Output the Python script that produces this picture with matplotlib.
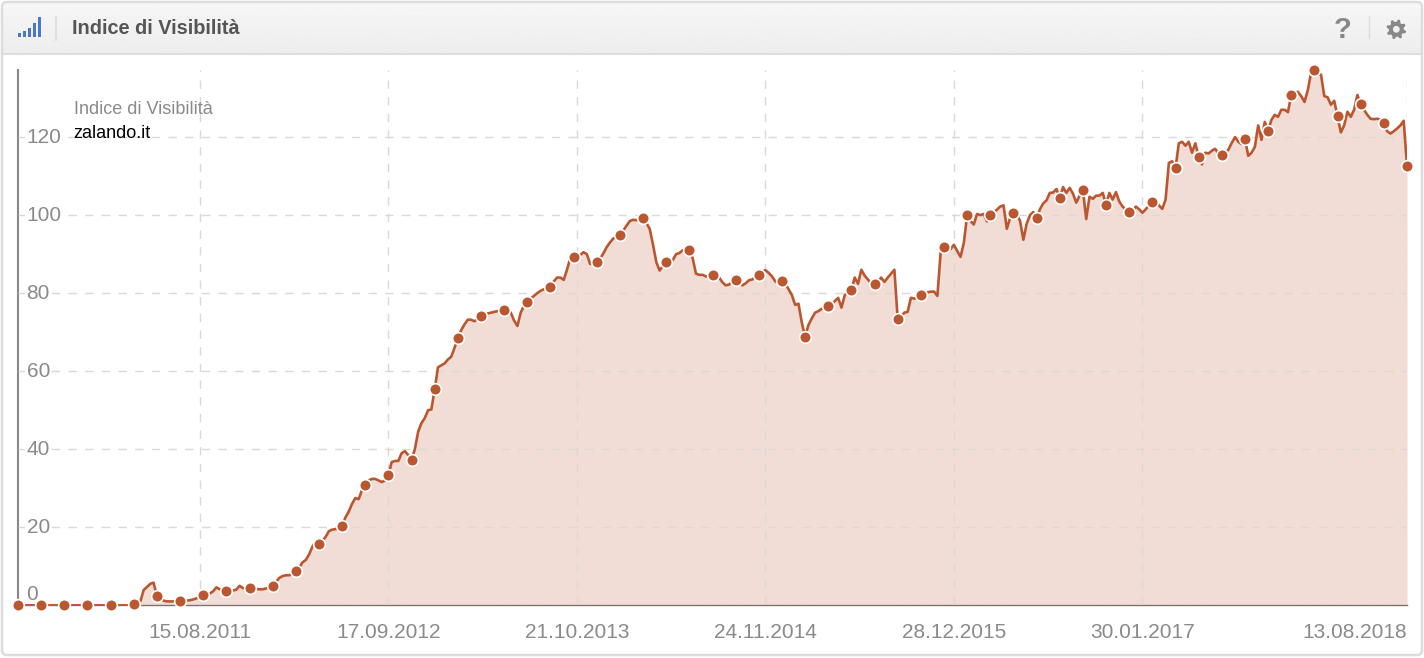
import numpy as np
import pandas as pd
import matplotlib
matplotlib.use('Agg')
import matplotlib.pyplot as plt
from matplotlib.patches import Rectangle, FancyBboxPatch, Polygon, Circle

plt.rcParams['font.family'] = ['Liberation Sans', 'DejaVu Sans']

# weekly values, each row starts on a week that carries a marker
vis_a = [
    0, 0, 0, 0, 0, 0, 0,
    0, 0, 0, 0, 0, 0, 0,
    0, 0, 0, 0, 0, 0, 0,
    0, 0, 0, 0, 0, 0, 0,
    0, 0, 0, 0, 0, 0, 0,
    0.3, 0.5, 1.0, 3.9, 4.7, 5.5, 5.8,
    2.3, 1.6, 1.2, 1.0, 1.0, 1.0, 1.1,
    1.2, 1.2, 1.2, 1.3, 1.5, 1.8, 2.2,
    2.6, 2.7, 3.0, 3.6, 4.6, 4.1, 3.9,
    3.7, 3.6, 3.8, 4.0, 5.0, 4.4, 4.4,
    4.5, 4.4, 4.2, 4.1, 4.1, 4.3, 4.6,
    4.9, 6.0, 7.0, 7.5, 7.7, 7.7, 8.0,
    8.8, 9.5, 11.0, 11.6, 13.0, 15.0, 16.3,
    15.7, 16.5, 17.5, 19.0, 19.4, 19.5, 19.8,
    20.3, 22.5, 24.0, 26.0, 27.5, 27.2, 29.5,
    30.8, 32.0, 32.4, 32.4, 32.0, 31.6, 32.0,
    33.4, 36.7, 37.0, 37.0, 39.0, 39.5, 38.5,
    37.3, 40.0, 44.5, 46.7, 48.0, 50.0, 50.2,
    55.4, 61.0, 61.5, 62.0, 63.0, 63.7, 66.0,
    68.5, 70.5, 72.0, 73.2, 73.2, 72.8, 73.3,
]
vis_b = [
    74.2, 74.6, 74.8, 75.0, 75.2, 75.4, 75.6,
    75.7, 76.0, 75.0, 73.0, 71.6, 75.0, 76.8,
    77.8, 78.6, 79.3, 80.0, 80.6, 81.0, 81.3,
    81.6, 83.0, 84.0, 84.0, 83.4, 86.0, 89.0,
    89.3, 88.8, 89.8, 90.5, 90.0, 87.5, 87.5,
    88.0, 88.8, 90.2, 91.8, 93.0, 94.0, 94.5,
    95.0, 96.0, 97.3, 98.5, 98.8, 98.7, 98.8,
    99.3, 98.0, 96.5, 92.5, 88.0, 85.8, 87.0,
    88.0, 87.5, 88.5, 90.0, 90.3, 91.0, 91.0,
    91.0, 89.0, 85.0, 84.7, 84.7, 84.3, 84.3,
    84.7, 84.2, 84.0, 82.8, 82.0, 82.2, 83.0,
    83.4, 83.0, 82.0, 82.5, 83.3, 83.5, 84.2,
    84.7, 85.5, 85.9, 85.2, 84.3, 83.0, 82.5,
    83.0, 82.5, 81.0, 79.5, 77.0, 77.3, 72.5,
    68.8, 71.8, 73.5, 75.0, 75.4, 76.0, 76.2,
    76.7, 77.0, 78.0, 78.8, 76.3, 79.5, 80.3,
    80.8, 84.0, 82.4, 86.0, 84.5, 83.5, 82.5,
    82.4, 82.8, 84.0, 82.9, 84.0, 85.0, 86.0,
    73.4, 74.0, 75.0, 75.2, 78.8, 78.6, 78.8,
    79.5, 80.0, 80.2, 80.4, 80.4, 79.3, 90.6,
]
vis_c = [
    91.9, 91.0, 91.3, 92.4, 90.8, 89.3, 92.9,
    100.0, 98.5, 97.6, 100.3, 100.0, 100.3, 98.4,
    100.0, 100.6, 101.4, 102.2, 102.5, 96.5, 99.3,
    100.6, 100.2, 98.5, 93.7, 97.8, 100.0, 100.8,
    99.3, 101.5, 103.0, 103.8, 105.7, 105.8, 106.7,
    104.4, 107.2, 105.7, 107.0, 105.5, 103.2, 105.0,
    106.5, 99.0, 104.7, 104.2, 105.0, 105.0, 105.7,
    102.6, 105.7, 104.0, 105.9, 103.5, 102.2, 101.4,
    100.9, 101.0, 102.2, 101.5, 100.6, 101.5, 102.5,
    103.3, 103.8, 102.5, 101.6, 104.0, 113.4, 113.8,
    112.0, 118.4, 118.8, 117.8, 118.8, 116.0, 118.4,
    115.0, 113.0, 116.0, 115.8, 116.5, 117.0, 115.8,
    115.3, 115.8, 116.8, 118.5, 120.0, 118.8, 118.2,
    119.5, 115.2, 116.0, 117.5, 123.0, 119.3, 123.9,
    121.6, 124.4, 125.7, 125.2, 127.0, 127.0, 126.4,
    130.8, 131.5, 131.6, 130.5, 129.0, 132.0, 136.5,
    137.2, 136.2, 136.0, 130.5, 130.2, 128.3, 129.3,
    125.3, 121.2, 123.0, 126.5, 125.2, 127.0, 130.8,
    128.5, 127.0, 125.7, 124.7, 124.6, 124.7, 124.5,
    123.6, 121.5, 120.9, 121.5, 122.2, 123.0, 124.2,
    112.6,
]
visibility = np.array(vis_a + vis_b + vis_c)
weeks = pd.date_range('2010-07-26', periods=len(visibility), freq='7D')

date_labels = ['15.08.2011', '17.09.2012', '21.10.2013', '24.11.2014',
               '28.12.2015', '30.01.2017', '13.08.2018']
y_ticks = [0, 20, 40, 60, 80, 100, 120]
title = 'Indice di Visibilità'
domain = 'zalando.it'

W, H = 1424, 658
LINE = '#bb5730'
GREY = '#8a8a8a'
GRID = '#dcd8d6'

fig = plt.figure(figsize=(W/100, H/100), dpi=100, facecolor='white')

# page furniture, in pixels
bg = fig.add_axes([0, 0, 1, 1], zorder=0)
bg.axis('off')
grad = np.linspace(0.965, 0.93, 50).reshape(-1, 1)
bg.imshow(grad, cmap='gray', vmin=0, vmax=1, extent=[2, W-2, 54, 3], aspect='auto')
bg.set_xlim(0, W)
bg.set_ylim(H, 0)
bg.plot([2, W-2], [54, 54], color='#dddddd', lw=1.5)
bg.add_patch(FancyBboxPatch((2, 2), W-4, H-5, boxstyle='round,pad=0,rounding_size=5',
                            fc='none', ec='#dddddd', lw=1.8))
bg.plot([55.5, 55.5], [17, 40], color='#dcdcdc', lw=1.2)
bg.plot([1368.5, 1368.5], [16, 38], color='#dcdcdc', lw=1.0)
bar_left = [17.5, 22.5, 27.7, 32.7, 37.7]
bar_top = [33, 31, 28, 23, 17]
for left, top in zip(bar_left, bar_top):
    bg.add_patch(Rectangle((left, top), 3.2, 37-top, fc='#4a78c8', ec='none'))
bg.text(72, 28.5, title, fontsize=14.3, fontweight='bold', color='#555555',
        va='center', ha='left', family='Liberation Sans')
bg.text(1342.5, 30, '?', fontsize=21, fontweight='bold', color='#888888',
        va='center', ha='center', family='Liberation Sans')

# gear icon
cx, cy = 1396.3, 29.3
ang = np.linspace(0, 2*np.pi, 33)[:-1] + np.pi/16
rad = np.tile([10, 10, 7.4, 7.4], 8)
bg.add_patch(Polygon(np.c_[cx + rad*np.cos(ang), cy + rad*np.sin(ang)], fc='#888888', ec='none'))
bg.add_patch(Circle((cx, cy), 3.4, fc='#f0f0f0', ec='none'))

# chart
ax = fig.add_axes([18/W, 1-605.3/H, (1407-18)/W, (605.3-70)/H], zorder=1)
ax.patch.set_alpha(0)
for side in ['top', 'right']:
    ax.spines[side].set_visible(False)
ax.spines['left'].set_color('#888888')
ax.spines['left'].set_linewidth(1.5)
ax.spines['bottom'].set_color('#7f7371')
ax.spines['bottom'].set_linewidth(1.0)

ax.fill_between(weeks, visibility, 0, color=LINE, alpha=0.2, lw=0, zorder=1)
ax.grid(True, color=GRID, lw=1.0, linestyle=(0, (6, 6)), zorder=2)
ax.set_axisbelow(False)
ax.plot(weeks, visibility, color=LINE, lw=1.9, zorder=3, solid_joinstyle='round')
ax.plot(weeks[::7], visibility[::7], 'o', ms=8.4, mfc=LINE, mec='white', mew=1.2,
        zorder=4, clip_on=False)

ticks = pd.to_datetime(date_labels, format='%d.%m.%Y')
ax.set_xticks(ticks)
ax.set_xticklabels(date_labels, fontsize=15, color=GREY)
ax.get_xticklabels()[-1].set_ha('right')
ax.tick_params(axis='x', length=0, pad=12.5)
ax.set_yticks(y_ticks)
ax.tick_params(axis='y', length=0, labelleft=False)
ax.set_xlim(weeks[0], weeks[-1])
ax.set_ylim(0, 137.2)
for v in y_ticks:
    raised = 8 if v == 0 else 0
    ax.annotate(str(v), (weeks[0], v), xytext=(6.2, raised), textcoords='offset points',
                fontsize=15, color=GREY, va='center', ha='left', zorder=5,
                bbox=dict(fc='white', ec='none', pad=1.0) if v else None)

ax.annotate(title, (0, 1), xycoords='axes fraction', xytext=(40.5, -28.5),
            textcoords='offset points', fontsize=13, color=GREY, va='center', zorder=6)
ax.annotate(domain, (0, 1), xycoords='axes fraction', xytext=(40, -45.5),
            textcoords='offset points', fontsize=13, color='black', va='center', zorder=6)

fig.savefig('out.png', dpi=100)
